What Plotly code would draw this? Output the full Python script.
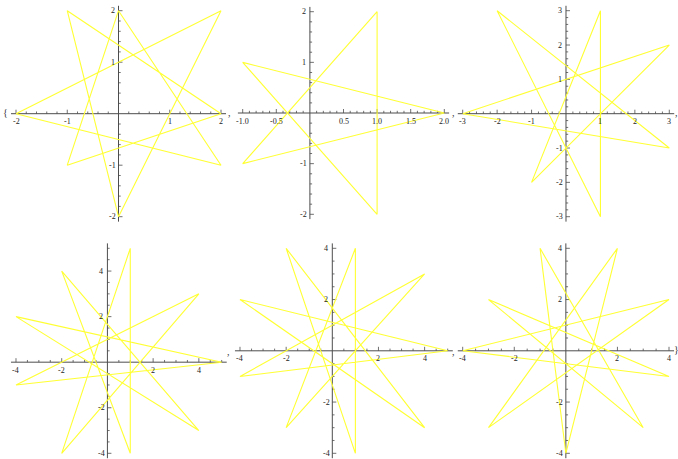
import numpy as np
import plotly.graph_objects as go

W, H = 678, 459

# Closed star polygons (vertex order as traced)
p1_x = [-2, 2, 0, -1, 2, -1, 0, 2, -2]
p1_y = [0, 2, -2, 2, 0, -1, 2, -1, 0]
p2_x = [2, -1, 1, 1, -1, 2]
p2_y = [0, -1, 2, -2, 1, 0]
p3_x = [-3, 3, -1, 1, 1, -2, 3, -3]
p3_y = [0, 2, -2, 3, -3, 3, -1, 0]
p4_x = [5, -4, 4, -2, 1, 1, -2, 4, -4, 5]
p4_y = [0, -1, 3, -4, 5, -4, 4, -3, 2, 0]
p5_x = [5, -4, 4, -2, 1, 1, -2, 4, -4, 5]
p5_y = [0, -1, 3, -3, 4, -4, 4, -3, 2, 0]
p6_x = [-4, 4, -3, 2, 0, -1, 3, -3, 4, -4]
p6_y = [0, 2, -3, 4, -4, 4, -3, 2, -1, 0]

# Tick definitions: (major ticks, labels, minor step)
ticks_int2 = ([-2, -1, 1, 2], ["-2", "-1", "1", "2"], 0.2)
ticks_half = ([-1.0, -0.5, 0.5, 1.0, 1.5, 2.0], ["-1.0", "-0.5", "0.5", "1.0", "1.5", "2.0"], 0.1)
ticks_int3 = ([-3, -2, -1, 1, 2, 3], ["-3", "-2", "-1", "1", "2", "3"], 0.2)
ticks_even4 = ([-4, -2, 2, 4], ["-4", "-2", "2", "4"], 0.5)

# Each panel: data, ranges, pixel box of the data range (left, right, top, bottom), ticks
panels = [
    dict(x=p1_x, y=p1_y, xr=(-2, 2), yr=(-2, 2), box=(16, 221, 10.7, 216.7), xt=ticks_int2, yt=ticks_int2),
    dict(x=p2_x, y=p2_y, xr=(-1, 2), yr=(-2, 2), box=(242.7, 444.3, 11.7, 214.3), xt=ticks_half, yt=ticks_int2),
    dict(x=p3_x, y=p3_y, xr=(-3, 3), yr=(-3, 3), box=(462.7, 669.3, 10.7, 216.7), xt=ticks_int3, yt=ticks_int3),
    dict(x=p4_x, y=p4_y, xr=(-4, 5), yr=(-4, 5), box=(16, 221.7, 248.3, 453.3), xt=ticks_even4, yt=ticks_even4),
    dict(x=p5_x, y=p5_y, xr=(-4, 5), yr=(-4, 4), box=(240, 447.7, 248.3, 453.3), xt=ticks_even4, yt=ticks_even4),
    dict(x=p6_x, y=p6_y, xr=(-4, 4), yr=(-4, 4), box=(462.7, 669, 248.3, 453.3), xt=ticks_even4, yt=ticks_even4),
]

AXIS_COLOR = "#4d4d4d"
STAR_COLOR = "#ffff33"
FONT = dict(family="Liberation Serif, DejaVu Serif, serif", size=8, color="#222222")
PAD = 0.025

fig = go.Figure()
annotations = []
layout_axes = {}

for i, p in enumerate(panels, start=1):
    xa = "x" if i == 1 else f"x{i}"
    ya = "y" if i == 1 else f"y{i}"
    x0, x1 = p["xr"]
    y0, y1 = p["yr"]
    L, R, T, B = p["box"]
    sx = (R - L) / (x1 - x0)          # px per x unit
    sy = (B - T) / (y1 - y0)          # px per y unit
    px_, py_ = PAD * (x1 - x0), PAD * (y1 - y0)
    rx = (x0 - px_, x1 + px_)
    ry = (y0 - py_, y1 + py_)
    dl, dr = L - px_ * sx, R + px_ * sx
    dt, db = T - py_ * sy, B + py_ * sy

    key = "" if i == 1 else str(i)
    layout_axes[f"xaxis{key}"] = dict(domain=[dl / W, dr / W], range=list(rx), visible=False,
                                      fixedrange=True, anchor=ya)
    layout_axes[f"yaxis{key}"] = dict(domain=[1 - db / H, 1 - dt / H], range=list(ry), visible=False,
                                      fixedrange=True, anchor=xa)

    # Axis lines crossing at the origin
    fig.add_trace(go.Scatter(x=[rx[0], rx[1], None, 0, 0], y=[0, 0, None, ry[0], ry[1]],
                             mode="lines", line=dict(color=AXIS_COLOR, width=1),
                             xaxis=xa, yaxis=ya, hoverinfo="skip", showlegend=False))

    # Tick marks
    tx, ty = [], []
    majors_x, labels_x, step_x = p["xt"]
    majors_y, labels_y, step_y = p["yt"]
    maj_len, min_len = 4.0, 2.2
    n = int(round((x1 - x0) / step_x))
    for k in range(n + 1):
        v = round(x0 + k * step_x, 6)
        if abs(v) < 1e-9:
            continue
        is_major = any(abs(v - m) < 1e-6 for m in majors_x)
        ln = (maj_len if is_major else min_len) / sy
        tx += [v, v, None]
        ty += [0, ln, None]
    n = int(round((y1 - y0) / step_y))
    for k in range(n + 1):
        v = round(y0 + k * step_y, 6)
        if abs(v) < 1e-9:
            continue
        is_major = any(abs(v - m) < 1e-6 for m in majors_y)
        ln = (maj_len if is_major else min_len) / sx
        tx += [0, ln, None]
        ty += [v, v, None]
    fig.add_trace(go.Scatter(x=tx, y=ty, mode="lines", line=dict(color=AXIS_COLOR, width=0.8),
                             xaxis=xa, yaxis=ya, hoverinfo="skip", showlegend=False))

    # Star polygon
    fig.add_trace(go.Scatter(x=p["x"], y=p["y"], mode="lines",
                             line=dict(color=STAR_COLOR, width=1.1),
                             xaxis=xa, yaxis=ya, hoverinfo="skip", showlegend=False))

    # Tick labels
    for m, lab in zip(majors_x, labels_x):
        annotations.append(dict(x=m, y=0, xref=xa, yref=ya, text=lab, showarrow=False,
                                yshift=-8, font=FONT))
    for m, lab in zip(majors_y, labels_y):
        annotations.append(dict(x=0, y=m, xref=xa, yref=ya, text=lab, showarrow=False,
                                xshift=-6, font=FONT))

# List delimiters of the output cell
BR_FONT = dict(family="Liberation Serif, DejaVu Serif, serif", size=10, color="#333333")
for (bx, by, t) in [(5, 113, "{"), (229, 113, ","), (453, 113, ","), (676, 113, ","),
                    (228, 351, ","), (453, 351, ","), (676, 349, "}")]:
    annotations.append(dict(x=bx / W, y=1 - by / H, xref="paper", yref="paper", text=t,
                            xanchor="center", yanchor="middle",
                            showarrow=False, font=BR_FONT))

fig.update_layout(width=W, height=H, margin=dict(l=0, r=0, t=0, b=0),
                  paper_bgcolor="white", plot_bgcolor="rgba(0,0,0,0)",
                  annotations=annotations, showlegend=False, **layout_axes)

fig.write_html("out.html", config={"displayModeBar": False})
